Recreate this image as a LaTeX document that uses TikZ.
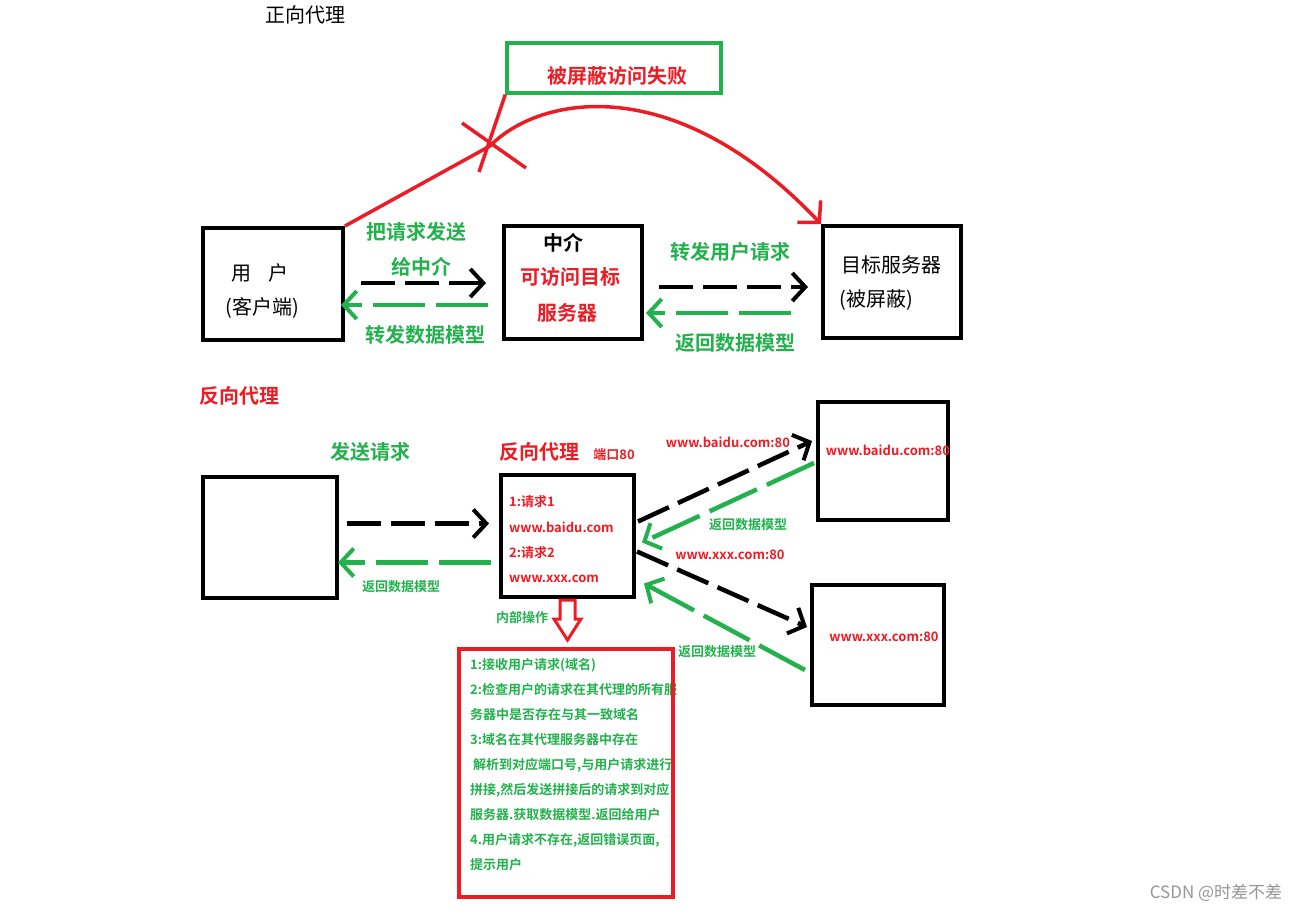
\documentclass[tikz,border=0pt]{standalone}
\usepackage{fontspec}
\setmainfont{Noto Sans CJK SC}[BoldFont={Noto Sans CJK SC Bold}]
\usetikzlibrary{arrows.meta,calc}
\definecolor{pred}{RGB}{237,28,36}
\definecolor{pgreen}{RGB}{34,177,76}
\definecolor{wmgray}{RGB}{150,150,150}
\begin{document}
\begin{tikzpicture}[x=1pt,y=-1pt,
  box/.style={draw=black,line width=4pt,inner sep=0pt,minimum width=#1},
  txt/.style={inner sep=0pt,anchor=center},
  big/.style={txt,font=\fontsize{20}{22}\selectfont},
  bigb/.style={txt,font=\fontsize{20}{22}\selectfont\bfseries},
  small/.style={txt,font=\fontsize{13}{15}\selectfont\bfseries},
  blkarrow/.style={draw=black,line width=4.5pt,dash pattern=on 34pt off 10pt,-{Straight Barb[length=13pt,width=28pt,line width=4pt]}},
  grnarrow/.style={draw=pgreen,line width=4.5pt,dash pattern=on 52pt off 11pt,-{Straight Barb[length=13pt,width=28pt,line width=4pt]}},
]
\useasboundingbox (0,0) rectangle (1307,914);
\fill[white] (0,0) rectangle (1307,914);

% ---------- forward proxy ----------
\node[big] (t1) at (305,15) {正向代理};

\node[draw=pgreen,line width=3.5pt,minimum width=214pt,minimum height=50pt,inner sep=0pt] (fail) at (614,68) {};
\node[bigb,text=pred] (failt) at (617,76) {被屏蔽访问失败};

\node[box=140pt,minimum height=112pt] (user) at (273,284) {};
\node[box=138pt,minimum height=113pt] (mid) at (573,282) {};
\node[box=138pt,minimum height=112pt] (tgt) at (892,282) {};

\node[big] (usert1) at (260,273) {用\hspace{0.9em}户};
\node[big] (usert2) at (262,308) {(客户端)};
\node[bigb] (midt1) at (563,243) {中介};
\node[bigb,text=pred] (midt2) at (570,277) {可访问目标};
\node[bigb,text=pred] (midt3) at (567,313) {服务器};
\node[big] (tgtt1) at (891,265) {目标服务器};
\node[big] (tgtt2) at (876,300) {(被屏蔽)};

\node[bigb,text=pgreen] (l1) at (416,232) {把请求发送};
\node[bigb,text=pgreen] (l2) at (421,267) {给中介};
\node[bigb,text=pgreen] (l3) at (425,335) {转发数据模型};
\node[bigb,text=pgreen] (l4) at (730,252) {转发用户请求};
\node[bigb,text=pgreen] (l5) at (735,343) {返回数据模型};

\draw[blkarrow] ($(user.east)+(16,-1)$) -- ($(mid.west)+(-16,1)$);
\draw[grnarrow] ($(mid.west)+(-14,23)$) -- ($(user.east)+(-4,21)$);
\draw[blkarrow] ($(mid.east)+(15,5)$) -- ($(tgt.west)+(-13,5)$);
\draw[grnarrow] ($(tgt.west)+(-30,31)$) -- ($(mid.east)+(2,31)$);

\coordinate (cross) at (490,146);
\draw[pred,line width=3.5pt,-{Straight Barb[length=15pt,width=32pt,line width=3.5pt]}]
  (user.north east) -- (cross) .. controls (540,95) and (675,70) .. (tgt.north west);
\draw[pred,line width=3.5pt] (462,123) -- (526,168);
\draw[pred,line width=3.5pt] (fail.south west) -- (479,172);

% ---------- reverse proxy ----------
\node[bigb,text=pred] (t2) at (239,396) {反向代理};
\node[bigb,text=pgreen] (send) at (370,452) {发送请求};
\node[bigb,text=pred] (rpt) at (539,452) {反向代理};
\node[small,text=pred] (port) at (614,455) {端口80};

\node[box=134pt,minimum height=121pt] (cli) at (270,537.5) {};
\node[box=133pt,minimum height=122pt] (rp) at (567.5,535.5) {};
\node[box=130pt,minimum height=118pt] (s1) at (883,461) {};
\node[box=132pt,minimum height=120pt] (s2) at (878,645) {};

\node[small,text=pred,anchor=west] (r1) at (509,502) {1:请求1};
\node[small,text=pred,anchor=west] (r2) at (509,527) {www.baidu.com};
\node[small,text=pred,anchor=west] (r3) at (509,553) {2:请求2};
\node[small,text=pred,anchor=west] (r4) at (509,579) {www.xxx.com};

\node[small,text=pred] (s1t) at (888,450) {www.baidu.com:80};
\node[small,text=pred] (s2t) at (884,637) {www.xxx.com:80};

\draw[blkarrow] ($(cli.east)+(8,-14)$) -- ($(rp.west)+(-10,-12)$);
\draw[grnarrow] ($(rp.west)+(-8,27)$) -- ($(cli.east)+(-1,25)$);
\node[small,text=pgreen] (ret0) at (401,587) {返回数据模型};

\draw[blkarrow] ($(rp.east)+(2,-14)$) -- ($(s1.west)+(-4,-20)$);
\draw[grnarrow] ($(s1.west)+(-2,2)$) -- ($(rp.east)+(6,7)$);
\draw[blkarrow] ($(rp.east)+(1,16)$) -- ($(s2.west)+(-3,-18)$);
\draw[grnarrow] ($(s2.west)+(-5,25)$) -- ($(rp.east)+(8,48)$);

\node[small,text=pred] (a1) at (728,442) {www.baidu.com:80};
\node[small,text=pgreen] (a2) at (748,525) {返回数据模型};
\node[small,text=pred] (a3) at (730,555) {www.xxx.com:80};
\node[small,text=pgreen] (a4) at (717,652) {返回数据模型};

\node[small,text=pgreen] (inner) at (522,618) {内部操作};
\draw[pred,line width=3pt,line join=miter]
  (560,600) -- (575,600) -- (575,619) -- (581,619) -- (567.5,640) -- (554,619) -- (560,619) -- cycle;

\node[small,text=pgreen,anchor=north west,align=left,font=\fontsize{13}{25}\selectfont\bfseries] (ops) at (470,658)
{1:接收用户请求(域名)\\
2:检查用户的请求在其代理的所有服\\
务器中是否存在与其一致域名\\
3:域名在其代理服务器中存在\\
\ 解析到对应端口号,与用户请求进行\\
拼接,然后发送拼接后的请求到对应\\
服务器.获取数据模型.返回给用户\\
4.用户请求不存在,返回错误页面,\\
提示用户};
\node[draw=pred,line width=4pt,minimum width=214pt,minimum height=248pt,inner sep=0pt] (opsbox) at (566,773) {};

\node[txt,text=wmgray,font=\fontsize{17}{19}\selectfont] (wm) at (1216,893) {CSDN @时差不差};
\end{tikzpicture}
\end{document}
